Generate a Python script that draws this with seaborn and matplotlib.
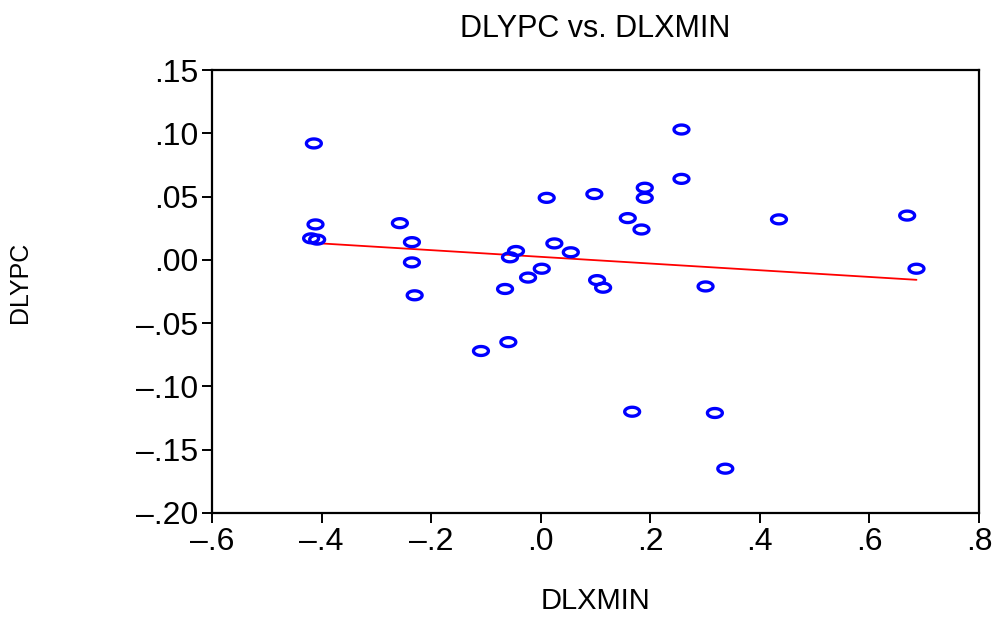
import numpy as np
import matplotlib
matplotlib.use("Agg")
import matplotlib.pyplot as plt
from matplotlib.path import Path
from matplotlib.markers import MarkerStyle
from matplotlib.ticker import FuncFormatter, FixedLocator
import seaborn as sns
import pandas as pd

# ---- data ----
dlxmin = [-0.414, -0.411, -0.419, -0.408, -0.257, -0.235, -0.235, -0.230,
          -0.109, -0.059, -0.065, -0.056, -0.045, -0.023, 0.002, 0.011,
          0.025, 0.055, 0.098, 0.103, 0.114, 0.159, 0.190, 0.190, 0.184,
          0.257, 0.257, 0.301, 0.435, 0.669, 0.686, 0.167, 0.318, 0.337]
dlypc = [0.092, 0.028, 0.017, 0.016, 0.029, 0.014, -0.002, -0.028,
         -0.072, -0.065, -0.023, 0.002, 0.007, -0.014, -0.007, 0.049,
         0.013, 0.006, 0.052, -0.016, -0.022, 0.033, 0.057, 0.049, 0.024,
         0.103, 0.064, -0.021, 0.032, 0.035, -0.007, -0.120, -0.121, -0.165]
x_ticks = [-0.6, -0.4, -0.2, 0.0, 0.2, 0.4, 0.6, 0.8]
y_ticks = [-0.20, -0.15, -0.10, -0.05, 0.00, 0.05, 0.10, 0.15]
title = "DLYPC vs. DLXMIN"
x_label = "DLXMIN"
y_label = "DLYPC"

df = pd.DataFrame({"DLXMIN": dlxmin, "DLYPC": dlypc})

sns.set_style("white")
plt.rcParams["font.family"] = ["Liberation Sans", "DejaVu Sans"]
plt.rcParams["text.color"] = "black"
plt.rcParams["axes.labelcolor"] = "black"
plt.rcParams["xtick.color"] = "black"
plt.rcParams["ytick.color"] = "black"

fig = plt.figure(figsize=(10.06, 6.17), dpi=100)
ax = fig.add_axes([0.2107, 0.1686, 0.7624, 0.7179])

# regression line
sns.regplot(data=df, x="DLXMIN", y="DLYPC", scatter=False, ci=None,
            truncate=True, color="#ff0000", line_kws={"lw": 1.3}, ax=ax)

# ellipse marker
t = np.linspace(0, 2 * np.pi, 60)
verts = np.column_stack([np.cos(t), 0.6 * np.sin(t)])
ell = MarkerStyle(Path(verts, closed=True))
sns.scatterplot(data=df, x="DLXMIN", y="DLYPC", marker=ell, s=115,
                facecolor="none", edgecolor="#0000ff", linewidth=2.4, ax=ax,
                zorder=3)

ax.set_xlim(-0.6, 0.8)
ax.set_ylim(-0.20, 0.15)
ax.xaxis.set_major_locator(FixedLocator(x_ticks))
ax.yaxis.set_major_locator(FixedLocator(y_ticks))


def fmt(v, nd):
    s = f"{v:.{nd}f}"
    if s.startswith("-"):
        s = "\u2013" + s[1:].lstrip("0")
    else:
        s = s.lstrip("0")
    if s in ("\u2013.0", "\u2013.00"):
        s = s[1:]
    return s


ax.xaxis.set_major_formatter(FuncFormatter(lambda v, p: fmt(v, 1)))
ax.yaxis.set_major_formatter(FuncFormatter(lambda v, p: fmt(v, 2)))

for sp in ax.spines.values():
    sp.set_visible(True)
    sp.set_color("black")
    sp.set_linewidth(1.6)

ax.tick_params(axis="both", which="major", direction="out", length=7,
               width=1.4, color="black", labelcolor="black", labelsize=23,
               pad=3, bottom=True, left=True, top=False, right=False)

ax.set_title(title, fontsize=22, pad=24, color="black")
ax.set_xlabel(x_label, fontsize=21, color="black")
ax.set_ylabel(y_label, fontsize=18, color="black")
ax.xaxis.set_label_coords(0.5, -0.168)
ax.yaxis.set_label_coords(-0.235, 0.52)

fig.savefig("out.png", dpi=100)
